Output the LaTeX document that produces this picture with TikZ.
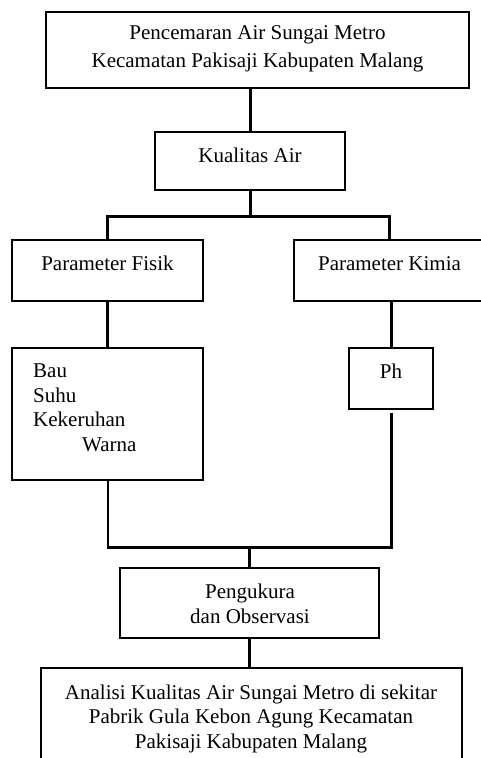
\documentclass[tikz,border=0pt]{standalone}
\usepackage{fontspec}
\setmainfont{Liberation Serif}
\begin{document}
\begin{tikzpicture}[x=1pt,y=-1pt,
  every node/.style={font=\fontsize{21}{24.5}\selectfont, inner sep=0pt},
  box/.style={draw, line width=1.6pt, rectangle},
  txt/.style={align=center},
  conn/.style={line width=3pt},
  thinconn/.style={line width=2pt}]
\useasboundingbox (0,0) rectangle (481,758);
\clip (0,0) rectangle (481,758);
% boxes
\node[box, minimum width=423pt, minimum height=76pt] (top) at (257.5,50) {};
\node[box, minimum width=190pt, minimum height=58pt] (kual) at (250,161) {};
\node[box, minimum width=191pt, minimum height=61pt] (fisik) at (107.5,270.5) {};
\node[box, minimum width=191pt, minimum height=61pt] (kimia) at (389.5,270.5) {};
\node[box, minimum width=191pt, minimum height=132pt] (bau) at (107.5,414) {};
\node[box, minimum width=84pt, minimum height=61pt] (ph) at (391,378.5) {};
\node[box, minimum width=259pt, minimum height=70pt] (peng) at (249.5,603) {};
\node[box, minimum width=421pt, minimum height=130pt] (bot) at (251.5,733) {};
% texts
\node[txt, font=\fontsize{21}{28}\selectfont] (ttop) at (257.5,49) {Pencemaran Air Sungai Metro\\Kecamatan Pakisaji Kabupaten Malang};
\node[txt] (tkual) at (250,155.8) {Kualitas Air};
\node[txt] (tfisik) at (107.5,263.8) {Parameter Fisik};
\node[txt] (tkimia) at (389.5,263.8) {Parameter Kimia};
\node[align=left, anchor=west] (tbau) at (33,408) {Bau\\Suhu\\Kekeruhan\\\hspace*{49pt}Warna};
\node[txt] (tph) at (391,371) {Ph};
\node[txt] (tpeng) at (250,603.9) {Pengukura\\dan Observasi};
\node[txt] (tbot) at (251,718.6) {Analisi Kualitas Air Sungai Metro di sekitar\\Pabrik Gula Kebon Agung Kecamatan\\Pakisaji Kabupaten Malang};
% junctions
\coordinate (j1) at (250,216);
\coordinate (j2) at (250,547);
\coordinate (phgap) at (391,413);
% connectors
\draw[conn] (kual.north) -- (kual.north |- top.south);
\draw[conn] (kual.south) -- (j1);
\draw[conn] (fisik.north) -- (fisik.north |- j1) -- (kimia.north |- j1) -- (kimia.north);
\draw[conn] (fisik.south) -- (bau.north);
\draw[conn] (kimia.south -| ph.north) -- (ph.north);
\draw[thinconn] (bau.south) -- ([yshift=-2pt]bau.south |- j2);
\draw[conn] (bau.south |- j2) -- (phgap |- j2) -- (phgap);
\draw[conn] (j2) -- (j2 -| peng.north) -- (peng.north);
\draw[conn] (peng.south) -- (peng.south |- bot.north);
\end{tikzpicture}
\end{document}
